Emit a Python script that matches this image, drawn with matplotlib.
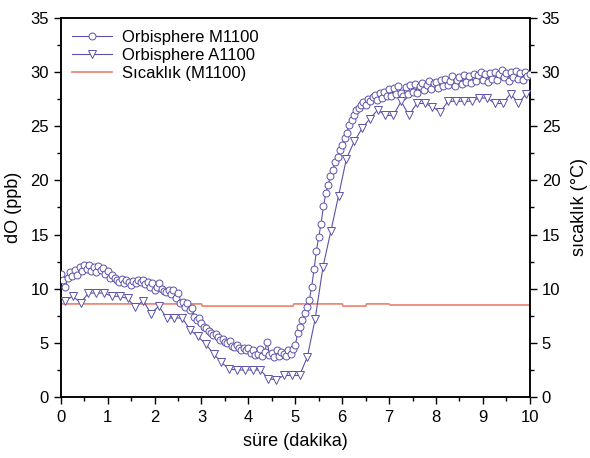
import numpy as np
import matplotlib.pyplot as plt
from matplotlib.ticker import MultipleLocator

plt.rcParams['font.family'] = ['Liberation Sans', 'DejaVu Sans']

# Orbisphere M1100, one reading every 3 s (0.05 min)
m1100_time = np.round(np.arange(0, 201) * 0.05, 2)
m1100_do = [
    11.4, 10.8, 10.2, 11.0, 11.5, 11.2, 11.7, 11.3, 12.0, 11.6,
    12.2, 11.8, 12.2, 11.6, 12.0, 11.5, 12.1, 11.7, 11.9, 11.4,
    11.6, 11.0, 11.3, 11.0, 10.8, 10.6, 10.9, 10.5, 10.8, 10.6,
    10.3, 10.7, 10.5, 10.8, 10.6, 10.8, 10.4, 10.6, 10.2, 10.5,
    9.9, 10.2, 10.5, 10.0, 9.8, 9.7, 9.9, 9.5, 9.9, 9.1,
    9.6, 8.7, 8.8, 8.3, 8.7, 8.0, 8.2, 7.4, 7.1, 7.3,
    6.8, 6.5, 6.4, 6.1, 5.9, 5.7, 5.8, 5.5, 5.3, 5.4,
    5.1, 5.0, 5.2, 4.7, 4.6, 4.8, 4.5, 4.3, 4.5, 4.3,
    4.5, 4.1, 4.3, 3.9, 4.0, 4.4, 3.8, 4.2, 5.1, 3.9,
    4.1, 3.7, 4.3, 3.8, 4.2, 4.0, 3.8, 4.3, 4.0, 4.4,
    4.8, 5.9, 6.5, 7.1, 7.8, 8.3, 9.0, 10.2, 11.8, 13.5,
    14.8, 16.0, 17.6, 18.8, 19.6, 20.4, 21.0, 21.7, 22.2, 22.8,
    23.3, 23.9, 24.4, 25.1, 25.6, 26.0, 26.5, 26.7, 27.0, 27.2,
    27.0, 27.5, 27.3, 27.7, 27.9, 27.4, 28.1, 27.6, 28.2, 27.8,
    28.4, 27.8, 28.5, 28.0, 28.7, 28.1, 27.8, 28.6, 28.0, 28.8,
    28.2, 28.9, 28.1, 28.7, 29.0, 28.3, 28.8, 29.2, 28.4, 29.0,
    29.1, 28.5, 29.3, 28.7, 29.4, 28.8, 29.2, 29.6, 28.7, 29.3,
    29.5, 28.9, 29.7, 29.1, 29.6, 29.0, 29.8, 29.2, 29.7, 30.0,
    29.3, 29.8, 29.1, 29.9, 29.4, 30.0, 29.3, 29.8, 30.2, 29.5,
    29.9, 29.2, 30.0, 29.5, 30.1, 29.4, 29.9, 29.3, 30.0, 29.6,
    29.8,
]

# Orbisphere A1100, one reading every 10 s
a1100_time = np.round(0.09 + np.arange(0, 60) / 6, 3)
a1100_do = [
    8.9, 9.3, 8.7, 9.6, 9.6, 9.6, 9.3, 9.3, 9.1, 8.3,
    8.9, 7.7, 8.4, 7.3, 7.3, 7.3, 6.2, 5.6, 4.9, 4.0,
    3.2, 2.6, 2.5, 2.5, 2.5, 2.5, 1.7, 1.6, 2.0, 2.0,
    2.0, 3.7, 7.2, 12.0, 15.3, 18.6, 22.0, 23.6, 24.8, 25.7,
    26.5, 26.0, 26.0, 27.3, 26.0, 27.1, 27.1, 26.8, 26.3, 27.3,
    27.3, 27.3, 27.3, 27.6, 27.6, 27.1, 27.1, 28.0, 27.1, 28.0,
]

# temperature (M1100)
temp_time = [0.0, 3.0, 3.02, 4.95, 4.97, 6.0, 6.02, 6.5, 6.52, 7.0, 7.02, 10.0]
temp_value = [8.6, 8.6, 8.4, 8.4, 8.6, 8.6, 8.4, 8.4, 8.6, 8.6, 8.5, 8.5]

purple = '#5b52a8'
red = '#ec8a78'

fig = plt.figure(figsize=(5.9, 4.58), dpi=100)
ax = fig.add_axes([0.103, 0.133, 0.795, 0.828])
ax2 = ax.twinx()

ax.plot(m1100_time, m1100_do, color=purple, lw=0.8, marker='o', ms=5.0,
        mfc='white', mec=purple, mew=0.7, label='Orbisphere M1100', zorder=3)
ax.plot(a1100_time, a1100_do, color=purple, lw=0.8, marker='v', ms=5.4,
        mfc='white', mec=purple, mew=0.7, label='Orbisphere A1100', zorder=3)
ax2.plot(temp_time, temp_value, color=red, lw=1.3, label='Sıcaklık (M1100)', zorder=2)

ax.set_zorder(ax2.get_zorder() + 1)
ax.patch.set_visible(False)

for a in (ax, ax2):
    a.set_xlim(0, 10)
    a.set_ylim(0, 35)
    a.yaxis.set_major_locator(MultipleLocator(5))
    a.yaxis.set_minor_locator(MultipleLocator(2.5))
    a.tick_params(which='major', direction='out', length=5, width=1, labelsize=12)
    a.tick_params(which='minor', direction='out', length=3, width=1)
    for s in a.spines.values():
        s.set_linewidth(1.1)

ax.xaxis.set_major_locator(MultipleLocator(1))
ax.xaxis.set_minor_locator(MultipleLocator(0.5))
ax.tick_params(axis='x', pad=4)

ax.set_xlabel('süre (dakika)', fontsize=13, labelpad=6)
ax.set_ylabel('dO (ppb)', fontsize=13, labelpad=6)
ax2.set_ylabel('sıcaklık (°C)', fontsize=13, labelpad=8)

h1, l1 = ax.get_legend_handles_labels()
h2, l2 = ax2.get_legend_handles_labels()
ax.legend(h1 + h2, l1 + l2, loc='upper left', frameon=False, fontsize=12,
          handlelength=2.4, labelspacing=0.2, borderaxespad=0.3, handletextpad=0.6)

fig.savefig('out.png', dpi=100)
